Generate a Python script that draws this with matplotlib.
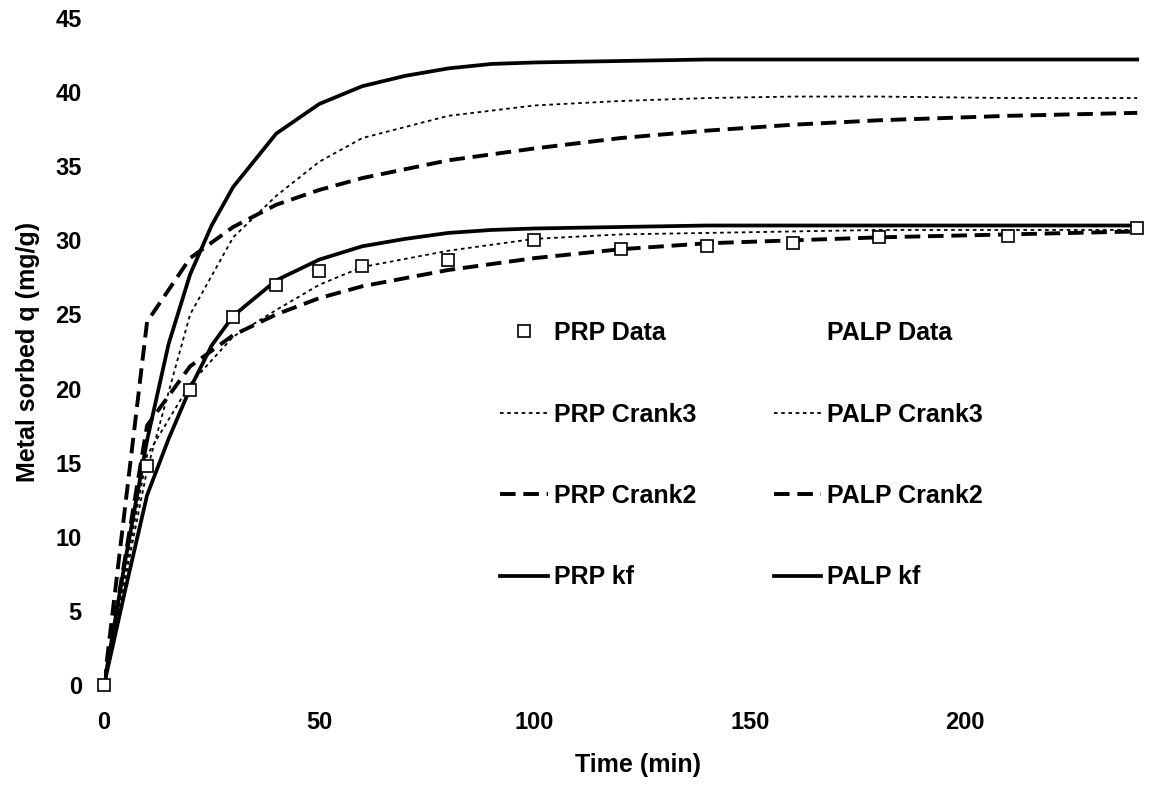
import matplotlib
matplotlib.use("Agg")
import matplotlib.pyplot as plt

plt.rcParams['font.family'] = ['Liberation Sans', 'DejaVu Sans']
plt.rcParams['font.weight'] = 'bold'

# time points (min)
t_data = [0, 10, 20, 30, 40, 50, 60, 80, 100, 120, 140, 160, 180, 210, 240]
prp_data = [0, 14.8, 19.9, 24.8, 27.0, 27.9, 28.3, 28.7, 30.0, 29.4, 29.6, 29.8, 30.2, 30.3, 30.8]

t_crank = [0, 10, 20, 30, 40, 50, 60, 80, 100, 120, 140, 160, 180, 210, 240]
prp_crank3 = [0, 15.5, 20.3, 23.5, 25.3, 27.0, 28.2, 29.3, 30.1, 30.4, 30.5, 30.6, 30.7, 30.7, 30.7]
palp_crank3 = [0, 14.5, 25.0, 30.2, 33.0, 35.3, 36.9, 38.4, 39.1, 39.4, 39.6, 39.7, 39.7, 39.6, 39.6]
prp_crank2 = [0, 17.5, 21.5, 23.6, 25.0, 26.1, 26.9, 28.0, 28.8, 29.4, 29.8, 30.0, 30.2, 30.4, 30.6]
palp_crank2 = [0, 24.5, 28.8, 30.9, 32.4, 33.4, 34.2, 35.4, 36.2, 36.9, 37.4, 37.8, 38.1, 38.4, 38.6]

t_kf = [0, 5, 10, 15, 20, 25, 30, 40, 50, 60, 70, 80, 90, 100, 120, 140, 160, 180, 210, 240]
prp_kf = [0, 6.5, 12.8, 16.6, 20.0, 22.9, 24.9, 27.3, 28.7, 29.6, 30.1, 30.5, 30.7, 30.8, 30.9,
          31.0, 31.0, 31.0, 31.0, 31.0]
palp_kf = [0, 8.5, 16.5, 23.0, 27.7, 31.0, 33.6, 37.2, 39.2, 40.4, 41.1, 41.6, 41.9, 42.0, 42.1,
           42.2, 42.2, 42.2, 42.2, 42.2]

fig = plt.figure(figsize=(11.53, 7.89), dpi=100)
ax = fig.add_axes([104 / 1153, 104 / 789, 1037.5 / 1153, 667 / 789])

dot = (0, (2, 2))
dash = (0, (4, 2))

ax.plot(t_data, prp_data, ls='none', marker='s', ms=9, mfc='white', mec='black',
        mew=1.2, label='PRP Data', zorder=5, clip_on=False)
ax.plot(t_crank, prp_crank3, color='black', lw=1.3, ls=dot, label='PRP Crank3')
ax.plot(t_crank, prp_crank2, color='black', lw=2.8, ls=dash, label='PRP Crank2')
ax.plot(t_kf, prp_kf, color='black', lw=2.7, label='PRP kf')
ax.plot([], [], ls='none', label='PALP Data')
ax.plot(t_crank, palp_crank3, color='black', lw=1.3, ls=dot, label='PALP Crank3')
ax.plot(t_crank, palp_crank2, color='black', lw=2.8, ls=dash, label='PALP Crank2')
ax.plot(t_kf, palp_kf, color='black', lw=2.7, label='PALP kf')

ax.set_xlim(0, 241)
ax.set_ylim(0, 45)
ax.set_xticks([0, 50, 100, 150, 200])
ax.set_yticks(range(0, 46, 5))
for s in ax.spines.values():
    s.set_visible(False)
ax.tick_params(axis='both', length=0, labelsize=17)
ax.tick_params(axis='y', pad=16)
ax.tick_params(axis='x', pad=19)

ax.set_xlabel('Time (min)', fontsize=18, fontweight='bold')
ax.set_ylabel('Metal sorbed q (mg/g)', fontsize=18, fontweight='bold')
ax.xaxis.set_label_coords(0.5145, -0.102)
ax.yaxis.set_label_coords(-0.062, 0.5)

leg = fig.legend(ncol=2, loc='upper left', bbox_to_anchor=(500 / 1153, 1 - 321 / 789),
                 frameon=False, fontsize=18, borderpad=0, borderaxespad=0,
                 handlelength=1.9, handletextpad=0.25, columnspacing=3.1,
                 labelspacing=2.3)

fig.savefig('out.png', dpi=100)
